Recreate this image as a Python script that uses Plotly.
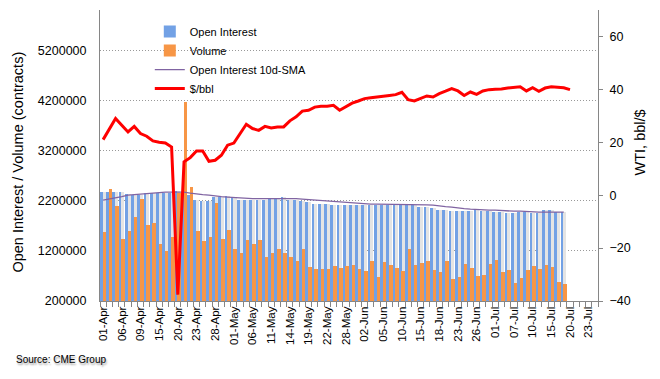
import plotly.graph_objects as go

dates = [
    "01-Apr", "02-Apr", "03-Apr", "06-Apr", "07-Apr", "08-Apr", "09-Apr", "13-Apr", "14-Apr", "15-Apr",
    "16-Apr", "17-Apr", "20-Apr", "21-Apr", "22-Apr", "23-Apr", "24-Apr", "27-Apr", "28-Apr", "29-Apr",
    "30-Apr", "01-May", "04-May", "05-May", "06-May", "07-May", "08-May", "11-May", "12-May", "13-May",
    "14-May", "15-May", "18-May", "19-May", "20-May", "21-May", "22-May", "26-May", "27-May", "28-May",
    "29-May", "01-Jun", "02-Jun", "03-Jun", "04-Jun", "05-Jun", "08-Jun", "09-Jun", "10-Jun", "11-Jun",
    "12-Jun", "15-Jun", "16-Jun", "17-Jun", "18-Jun", "19-Jun", "22-Jun", "23-Jun", "24-Jun", "25-Jun",
    "26-Jun", "29-Jun", "30-Jun", "01-Jul", "02-Jul", "06-Jul", "07-Jul", "08-Jul", "09-Jul", "10-Jul",
    "13-Jul", "14-Jul", "15-Jul", "16-Jul", "17-Jul", "20-Jul", "21-Jul", "22-Jul", "23-Jul", "24-Jul",
]

open_interest = [
    2380000, 2380000, 2380000, 2380000, 2330000, 2320000, 2320000, 2350000, 2350000, 2350000,
    2350000, 2360000, 2400000, 2380000, 2320000, 2220000, 2190000, 2190000, 2270000, 2280000,
    2300000, 2250000, 2220000, 2220000, 2220000, 2220000, 2220000, 2250000, 2250000, 2280000,
    2220000, 2220000, 2200000, 2170000, 2140000, 2140000, 2140000, 2120000, 2120000, 2120000,
    2120000, 2120000, 2120000, 2120000, 2120000, 2120000, 2120000, 2120000, 2120000, 2120000,
    2120000, 2070000, 2070000, 2050000, 2020000, 2020000, 2000000, 2000000, 2000000, 2000000,
    2020000, 2000000, 2000000, 1980000, 1970000, 1960000, 1960000, 1970000, 1970000, 1960000,
    1960000, 2020000, 2020000, 1970000, 1970000,
]

volume = [
    1570000, 2440000, 2090000, 1440000, 1590000, 1870000, 2240000, 1710000, 1760000, 1330000,
    1190000, 1470000, 2350000, 4160000, 2480000, 1600000, 1390000, 1470000, 2150000, 1440000,
    1610000, 1240000, 1150000, 1410000, 1330000, 1410000, 1070000, 1160000, 1230000, 1150000,
    1070000, 990000, 1230000, 870000, 840000, 840000, 830000, 900000, 850000, 900000,
    920000, 840000, 800000, 1000000, 670000, 980000, 920000, 860000, 800000, 1240000,
    920000, 960000, 1000000, 820000, 780000, 1000000, 640000, 670000, 940000, 860000,
    700000, 720000, 940000, 1020000, 780000, 820000, 560000, 660000, 820000, 900000,
    840000, 920000, 880000, 580000, 540000,
]

oi_sma = [
    2210000, 2230000, 2250000, 2280000, 2310000, 2320000, 2340000, 2350000, 2360000, 2370000,
    2370000, 2370000, 2370000, 2370000, 2350000, 2330000, 2320000, 2310000, 2290000, 2280000,
    2270000, 2260000, 2250000, 2240000, 2240000, 2240000, 2240000, 2250000, 2250000, 2250000,
    2240000, 2240000, 2230000, 2220000, 2210000, 2200000, 2190000, 2180000, 2170000, 2160000,
    2150000, 2140000, 2135000, 2130000, 2130000, 2130000, 2130000, 2130000, 2130000, 2125000,
    2120000, 2120000, 2115000, 2110000, 2090000, 2080000, 2070000, 2050000, 2040000, 2030000,
    2020000, 2020000, 2010000, 2010000, 2000000, 2000000, 1990000, 1990000, 1980000, 1980000,
    1970000, 1970000, 1970000, 1970000, 1970000,
]

wti = [
    21.0, 24.9, 29.0, 26.4, 23.9, 26.0, 23.3, 22.3, 20.5, 20.0,
    19.7, 18.2, -37.6, 12.6, 14.2, 16.7, 16.7, 12.8, 13.2, 15.1,
    18.9, 19.7, 23.3, 26.8, 25.2, 24.5, 26.0, 25.4, 25.8, 25.8,
    28.1, 29.6, 31.8, 32.1, 33.3, 33.6, 33.6, 34.0, 32.1, 33.5,
    34.8, 35.6, 36.5, 36.8, 37.0, 37.4, 37.7, 38.0, 38.9, 36.1,
    35.6, 36.6, 37.5, 37.1, 38.4, 39.3, 40.3, 39.4, 37.7, 39.0,
    38.1, 39.4, 39.9, 40.0, 40.1, 40.5, 40.7, 41.0, 39.4, 40.6,
    39.3, 40.5, 41.0, 40.7, 40.6, 39.9,
]

left_ticks = [200000, 1200000, 2200000, 3200000, 4200000, 5200000]
right_ticks = [-40, -20, 0, 20, 40, 60]
x_tick_text = [d if i % 3 == 0 else "" for i, d in enumerate(dates)]

FONT = "Arial, 'Liberation Sans', sans-serif"
AXIS_GREY = "#868686"

bar_x = dates[:len(open_interest)]

fig = go.Figure()
# shadow of open-interest bars
fig.add_trace(go.Bar(
    x=bar_x, y=open_interest, offset=-0.07, width=0.5,
    marker=dict(color="#e4e4e4", line=dict(width=0)),
    showlegend=False, hoverinfo="skip",
))
fig.add_trace(go.Bar(
    name="Open Interest", x=bar_x, y=open_interest, offset=-0.5, width=0.44,
    marker=dict(color="#72a1e5", line=dict(width=0)),
))
fig.add_trace(go.Bar(
    name="Volume", x=dates[:len(volume)], y=volume, offset=-0.07, width=0.57,
    marker=dict(color="#f79646", line=dict(width=0)),
))
fig.add_trace(go.Scatter(
    name="Open Interest 10d-SMA", x=dates[:len(oi_sma)], y=oi_sma, mode="lines",
    line=dict(color="#8064a2", width=1.3),
))
fig.add_trace(go.Scatter(
    name="$/bbl", x=dates[:len(wti)], y=wti, yaxis="y2", mode="lines",
    line=dict(color="#ff0000", width=3),
))

# the page body has an 8px default margin, so the figure is sized to fit inside it
fig.update_layout(
    width=652, height=371,
    margin=dict(l=92, r=62, t=2, b=78),
    paper_bgcolor="white", plot_bgcolor="white",
    font=dict(family=FONT, color="#000000", size=12),
    barmode="overlay", bargap=0,
    showlegend=True,
    legend=dict(
        x=0.1, xanchor="left", y=0.828, yanchor="middle",
        bgcolor="rgba(0,0,0,0)", font=dict(size=11, family=FONT),
        traceorder="normal",
    ),
    xaxis=dict(
        type="category", categoryorder="array", categoryarray=dates,
        range=[-0.5, len(dates) - 0.5],
        tickmode="array", tickvals=dates, ticktext=x_tick_text,
        tickson="boundaries", ticks="outside", ticklen=5, tickcolor=AXIS_GREY,
        tickangle=-90, tickfont=dict(size=11.5, family=FONT),
        showline=True, linecolor=AXIS_GREY, linewidth=1,
        showgrid=False, zeroline=False, fixedrange=True,
    ),
    yaxis=dict(
        range=[200000, 6000000],
        tickmode="array", tickvals=left_ticks, ticktext=[str(v) for v in left_ticks],
        tickfont=dict(size=12.5, family=FONT),
        ticks="", ticklabelstandoff=10,
        showline=True, linecolor=AXIS_GREY, linewidth=1,
        showgrid=True, gridcolor="#999999", griddash="1px,2px", gridwidth=1,
        zeroline=False,
    ),
    yaxis2=dict(
        overlaying="y", side="right", range=[-40, 70],
        tickmode="array", tickvals=right_ticks,
        tickfont=dict(size=12.5, family=FONT),
        ticks="outside", ticklen=4, tickcolor=AXIS_GREY, ticklabelstandoff=4,
        showline=True, linecolor=AXIS_GREY, linewidth=1,
        showgrid=False, zeroline=False,
    ),
    annotations=[
        dict(text="Open Interest / Volume (contracts)", xref="paper", yref="paper",
             x=-0.1647, y=0.479, xanchor="center", yanchor="middle", textangle=-90,
             showarrow=False, font=dict(size=14.5, family=FONT)),
        dict(text="WTI, bbl/$", xref="paper", yref="paper",
             x=1.0863, y=0.5447, xanchor="center", yanchor="middle", textangle=-90,
             showarrow=False, font=dict(size=14.5, family=FONT)),
        dict(text="Source: CME Group", xref="paper", yref="paper",
             x=-0.1727, y=-0.2027, xanchor="left", yanchor="middle",
             showarrow=False, font=dict(size=10, family=FONT, shadow="1px 2px 2px #9a9a9a")),
    ],
)

fig.write_html("out.html")
